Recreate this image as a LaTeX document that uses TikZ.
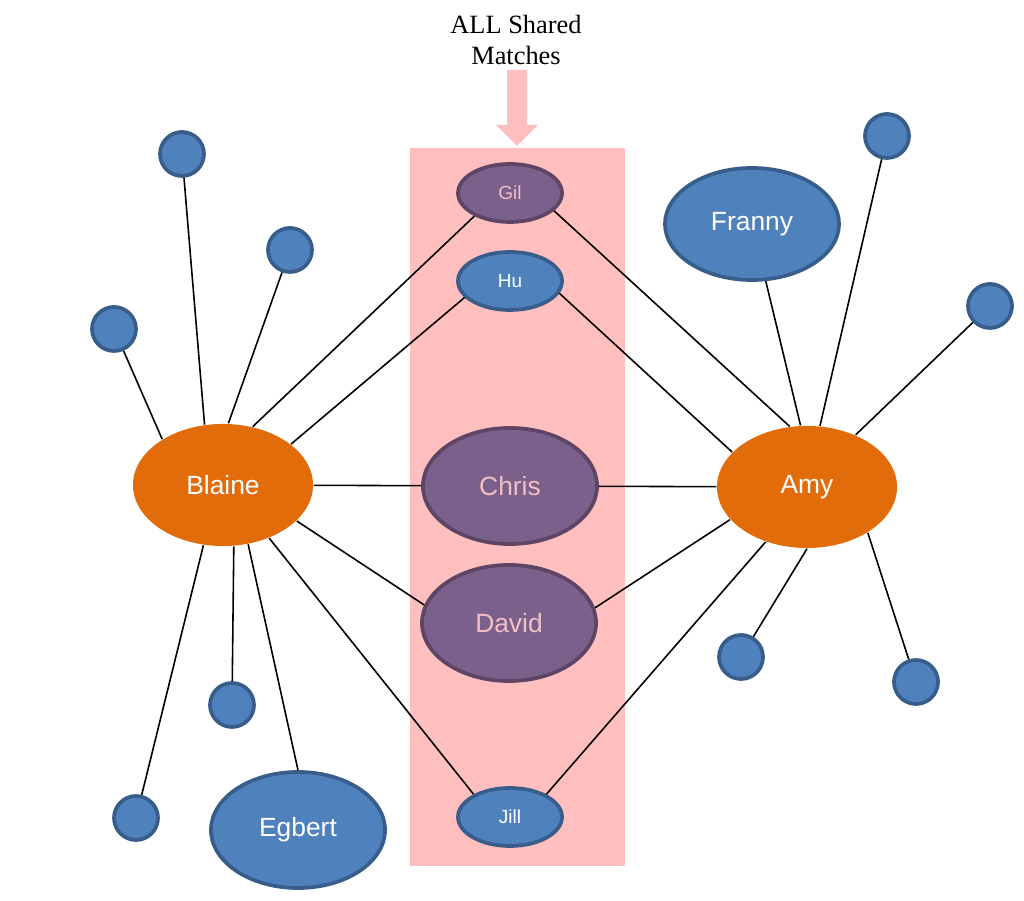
\documentclass[tikz,border=0pt]{standalone}
\usepackage{fontspec}
\setmainfont{Liberation Serif}
\newfontfamily\arialf{Liberation Sans}
\usetikzlibrary{shapes.geometric}
\definecolor{orng}{HTML}{E36C0A}
\definecolor{bluef}{HTML}{4F81BD}
\definecolor{blued}{HTML}{385D8A}
\definecolor{purpf}{HTML}{7A608A}
\definecolor{purpd}{HTML}{5E4566}
\definecolor{pinkbg}{HTML}{FFBFBF}
\definecolor{pinktxt}{HTML}{F2BFC4}
\begin{document}
\begin{tikzpicture}[x=0.01cm,y=-0.01cm,
  el/.style={ellipse,inner sep=0pt},
  orangenode/.style={el,fill=orng,text=white,minimum width=1.8cm,minimum height=1.22cm,font=\arialf\fontsize{7.5}{9}\selectfont},
  bignode/.style={el,minimum width=1.74cm,minimum height=1.16cm,font=\arialf\fontsize{7.5}{9}\selectfont,line width=1.05pt},
  smallnode/.style={el,minimum width=1.04cm,minimum height=0.58cm,font=\arialf\fontsize{5.4}{6.5}\selectfont,line width=1.05pt},
  bluenode/.style={fill=bluef,draw=blued,text=white},
  purplenode/.style={fill=purpf,draw=purpd,text=pinktxt},
  dot/.style={circle,fill=bluef,draw=blued,line width=1.05pt,minimum size=0.44cm,inner sep=0pt},
  link/.style={draw=black,line width=0.45pt}]
\useasboundingbox (0,0) rectangle (1024,901);
% shared matches band and arrow
\fill[pinkbg] (410,148) rectangle (625,866);
\fill[pinkbg] (507,70) -- (527,70) -- (527,125) -- (538,125) -- (517,146) -- (496,125) -- (507,125) -- cycle;
\node[align=center,font=\fontsize{7.5}{8.8}\selectfont] (title) at (516,40) {ALL Shared\\Matches};
% main nodes
\node[orangenode] (blaine) at (223,485) {Blaine};
\node[orangenode] (amy) at (807,487) {Amy};
\node[smallnode,purplenode] (gil) at (510,193) {Gil};
\node[smallnode,bluenode] (hu) at (510,281) {Hu};
\node[bignode,purplenode] (chris) at (510,486) {Chris};
\node[bignode,purplenode] (david) at (509,623) {David};
\node[smallnode,bluenode] (jill) at (510,817) {Jill};
\node[bignode,bluenode,minimum height=1.12cm] (franny) at (752,224) {Franny};
\node[bignode,bluenode] (egbert) at (298,830) {Egbert};
% small dots
\node[dot] (b1) at (182,154) {};
\node[dot] (b2) at (290,250) {};
\node[dot] (b3) at (114,329) {};
\node[dot] (b4) at (232,705) {};
\node[dot] (b5) at (136,818) {};
\node[dot] (a1) at (887,136) {};
\node[dot] (a2) at (990,306) {};
\node[dot] (a3) at (741,657) {};
\node[dot] (a4) at (916,682) {};
% connectors from Blaine
\draw[link] (blaine.107) -- (b1);
\draw[link] (blaine.85) -- (b2);
\draw[link] (blaine.143) -- (b3);
\draw[link] (blaine.-80) -- (b4);
\draw[link] (blaine.-108) -- (b5);
\draw[link] (blaine.-67) -- (egbert.north);
\draw[link] (blaine.63) -- (gil.-147);
\draw[link] (blaine.31) -- (hu.-160);
\draw[link] (blaine) -- (chris);
\draw[link] (blaine.-26) -- (david.168);
\draw[link] (blaine.-49) -- (jill.148);
% connectors from Amy
\draw[link] (amy.96) -- (franny);
\draw[link] (amy.78) -- (a1);
\draw[link] (amy.47) -- (a2);
\draw[link] (amy.south) -- (a3);
\draw[link] (amy.-37) -- (a4);
\draw[link] (amy.106) -- (gil.-22);
\draw[link] (amy.155) -- (hu.-14);
\draw[link] (amy) -- (chris);
\draw[link] (amy.-157) -- (david.10);
\draw[link] (amy.-127) -- (jill.32);
\end{tikzpicture}
\end{document}
